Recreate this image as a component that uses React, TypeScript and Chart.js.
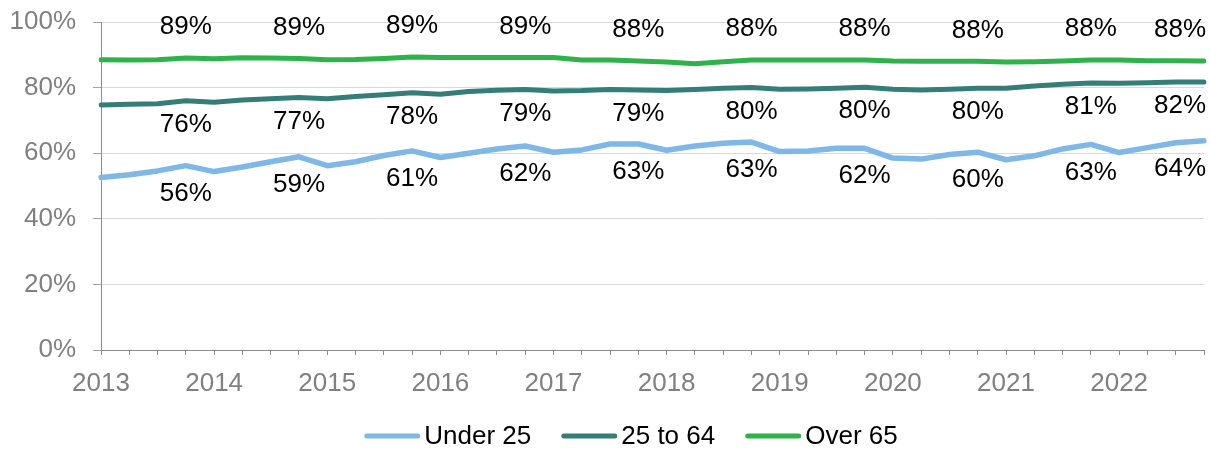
import React, { useEffect, useRef } from "react";
import { Chart, registerables } from "chart.js";

Chart.register(...registerables);

const categories = [
  "2013 Q1", "2013 Q2", "2013 Q3", "2013 Q4",
  "2014 Q1", "2014 Q2", "2014 Q3", "2014 Q4",
  "2015 Q1", "2015 Q2", "2015 Q3", "2015 Q4",
  "2016 Q1", "2016 Q2", "2016 Q3", "2016 Q4",
  "2017 Q1", "2017 Q2", "2017 Q3", "2017 Q4",
  "2018 Q1", "2018 Q2", "2018 Q3", "2018 Q4",
  "2019 Q1", "2019 Q2", "2019 Q3", "2019 Q4",
  "2020 Q1", "2020 Q2", "2020 Q3", "2020 Q4",
  "2021 Q1", "2021 Q2", "2021 Q3", "2021 Q4",
  "2022 Q1", "2022 Q2", "2022 Q3", "2022 Q4",
];

const yearTickLabels = ["2013", "2014", "2015", "2016", "2017", "2018", "2019", "2020", "2021", "2022"];

const under25 = [
  52.6, 53.4, 54.6, 56.2, 54.4, 55.8, 57.4, 58.9, 56.2, 57.4,
  59.3, 60.7, 58.7, 60.0, 61.3, 62.2, 60.3, 61.0, 62.8, 62.8,
  60.9, 62.2, 63.0, 63.4, 60.5, 60.7, 61.5, 61.5, 58.5, 58.2,
  59.6, 60.3, 58.0, 59.2, 61.3, 62.7, 60.2, 61.7, 63.2, 63.8,
];

const age25to64 = [
  74.7, 74.9, 75.1, 76.0, 75.5, 76.2, 76.6, 77.0, 76.6, 77.3,
  77.8, 78.4, 78.0, 78.8, 79.2, 79.4, 79.0, 79.1, 79.4, 79.3,
  79.1, 79.4, 79.8, 80.0, 79.5, 79.6, 79.8, 80.1, 79.5, 79.3,
  79.5, 79.8, 79.8, 80.5, 81.0, 81.4, 81.3, 81.5, 81.7, 81.7,
];

const over65 = [
  88.5, 88.4, 88.5, 89.0, 88.8, 89.1, 89.0, 88.9, 88.5, 88.6,
  88.9, 89.3, 89.2, 89.2, 89.2, 89.2, 89.2, 88.4, 88.4, 88.1,
  87.8, 87.3, 87.9, 88.4, 88.4, 88.4, 88.4, 88.4, 88.1, 88.0,
  88.0, 88.0, 87.8, 87.9, 88.1, 88.4, 88.4, 88.2, 88.2, 88.1,
];

const labelIndices = [3, 7, 11, 15, 19, 23, 27, 31, 35, 39];
const under25Labels = ["56%", "59%", "61%", "62%", "63%", "63%", "62%", "60%", "63%", "64%"];
const age25to64Labels = ["76%", "77%", "78%", "79%", "79%", "80%", "80%", "80%", "81%", "82%"];
const over65Labels = ["89%", "89%", "89%", "89%", "88%", "88%", "88%", "88%", "88%", "88%"];

const seriesNames = ["Under 25", "25 to 64", "Over 65"];
const seriesColors = ["#7fb7e7", "#357d78", "#2eb24a"];

const FONT = "'Liberation Sans', Arial, sans-serif";

const dataLabelPlugin = {
  id: "dataLabelsCustom",
  afterDatasetsDraw(chart: any) {
    const ctx = chart.ctx;
    const area = chart.chartArea;
    const labelSets = [under25Labels, age25to64Labels, over65Labels];
    const offsets = [28, 24, -31];
    ctx.save();
    ctx.font = `26px ${FONT}`;
    ctx.fillStyle = "#000000";
    ctx.textAlign = "center";
    ctx.textBaseline = "middle";
    chart.data.datasets.forEach((ds: any, di: number) => {
      const meta = chart.getDatasetMeta(di);
      labelIndices.forEach((idx, k) => {
        const pt = meta.data[idx];
        if (!pt) return;
        const text = labelSets[di][k];
        const w = ctx.measureText(text).width;
        let x = pt.x;
        if (x + w / 2 > area.right + 2) x = area.right + 2 - w / 2;
        ctx.fillText(text, x, pt.y + offsets[di]);
      });
    });
    ctx.restore();
  },
};

const legendPlugin = {
  id: "legendCustom",
  afterDraw(chart: any) {
    const ctx = chart.ctx;
    ctx.save();
    ctx.font = `26px ${FONT}`;
    const lineLen = 51;
    const gap = 9;
    const itemGap = 30;
    const widths = seriesNames.map((n) => ctx.measureText(n).width);
    let total = 0;
    widths.forEach((w, i) => {
      total += lineLen + gap + w + (i < widths.length - 1 ? itemGap : 0);
    });
    const centerX = 631;
    const y = 436;
    let x = centerX - total / 2;
    seriesNames.forEach((name, i) => {
      ctx.strokeStyle = seriesColors[i];
      ctx.lineWidth = 5;
      ctx.lineCap = "round";
      ctx.beginPath();
      ctx.moveTo(x + 2.5, y);
      ctx.lineTo(x + lineLen + 2.5, y);
      ctx.stroke();
      ctx.fillStyle = "#000000";
      ctx.textAlign = "left";
      ctx.textBaseline = "middle";
      ctx.fillText(name, x + lineLen + gap, y + 1);
      x += lineLen + gap + widths[i] + itemGap;
    });
    ctx.restore();
  },
};

export default function App() {
  const canvasRef = useRef<HTMLCanvasElement | null>(null);

  useEffect(() => {
    if (!canvasRef.current) return;
    const mk = (label: string, data: number[], color: string, width: number) => ({
      label,
      data,
      borderColor: color,
      backgroundColor: color,
      borderWidth: width,
      pointRadius: 0,
      pointHoverRadius: 0,
      tension: 0,
      borderCapStyle: "round",
      borderJoinStyle: "round",
      fill: false,
    });
    const chart = new Chart(canvasRef.current, {
      type: "line",
      data: {
        labels: categories,
        datasets: [
          mk(seriesNames[0], under25, seriesColors[0], 5.5),
          mk(seriesNames[1], age25to64, seriesColors[1], 5),
          mk(seriesNames[2], over65, seriesColors[2], 5),
        ] as any,
      },
      options: {
        animation: false,
        responsive: false,
        devicePixelRatio: 1,
        layout: { padding: { left: 0, right: 7, top: 22, bottom: 49 } },
        plugins: {
          legend: { display: false },
          tooltip: { enabled: false },
        },
        scales: {
          x: {
            type: "category",
            offset: false,
            grid: {
              drawOnChartArea: false,
              drawTicks: true,
              tickLength: 5,
              color: "#8c8c8c",
            },
            border: { color: "#8c8c8c", width: 1 },
            ticks: {
              autoSkip: false,
              maxRotation: 0,
              minRotation: 0,
              padding: 13,
              color: "#808080",
              font: { family: FONT, size: 26 },
              callback: (_v: any, i: number) => (i % 4 === 0 ? yearTickLabels[i / 4] : ""),
            },
            afterFit: (scale: any) => {
              scale.height = 50;
              scale.paddingLeft = 0;
              scale.paddingRight = 0;
            },
          },
          y: {
            min: 0,
            max: 100,
            grid: {
              color: "#d9d9d9",
              tickColor: "#a0a0a0",
              tickLength: 8,
              lineWidth: 1,
            },
            border: { color: "#8c8c8c", width: 1 },
            ticks: {
              stepSize: 20,
              padding: 17,
              color: "#808080",
              font: { family: FONT, size: 26 },
              callback: (v: any) => `${v}%`,
            },
            afterFit: (scale: any) => {
              scale.width = 101;
              scale.paddingTop = 0;
              scale.paddingBottom = 0;
            },
          },
        },
      } as any,
      plugins: [dataLabelPlugin, legendPlugin],
    });
    return () => chart.destroy();
  }, []);

  return (
    <div style={{ position: "fixed", left: 0, top: 0, width: 1211, height: 449, background: "#ffffff" }}>
      <canvas ref={canvasRef} width={1211} height={449} style={{ width: 1211, height: 449, display: "block" }} />
    </div>
  );
}
